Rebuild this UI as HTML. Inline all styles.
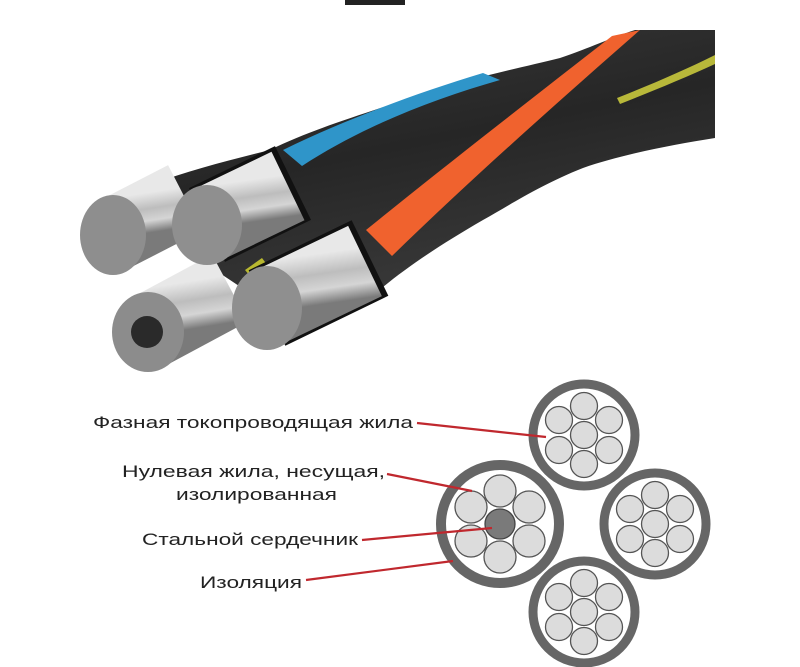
<!DOCTYPE html>
<html><head><meta charset="utf-8"><style>
html,body{margin:0;padding:0;background:#fff;}
svg{display:block;}
text{font-family:"Liberation Sans",Arial,sans-serif;font-size:16.5px;fill:#222;}
</style></head><body>
<svg width="800" height="667" viewBox="0 0 800 667" xmlns="http://www.w3.org/2000/svg">
<defs>
<linearGradient id="sil" x1="0" y1="0" x2="0.3" y2="1">
<stop offset="0" stop-color="#e8e8e8"/><stop offset="0.4" stop-color="#bdbdbd"/><stop offset="0.7" stop-color="#d5d5d5"/><stop offset="1" stop-color="#7a7a7a"/>
</linearGradient>
<linearGradient id="blk" x1="0" y1="0" x2="0.4" y2="1">
<stop offset="0" stop-color="#3a3a3a"/><stop offset="0.5" stop-color="#262626"/><stop offset="1" stop-color="#3b3b3b"/>
</linearGradient>
</defs>
<rect x="345" y="0" width="60" height="5" fill="#222"/>
<path d="M150,185 C190,170 230,160 270,150 C310,130 360,115 420,95 C470,78 520,68 560,58 C590,48 610,38 635,30 L715,30 L715,138 C670,145 620,155 583,168 C540,185 510,205 483,220 C440,245 410,265 383,287 L340,318 L260,300 L200,260 Z" fill="url(#blk)"/>
<path d="M283,150 C340,122 410,95 483,73 L500,80 C430,100 360,128 302,166 Z" fill="#2f95c9"/>
<path d="M366,230 C440,170 530,100 612,36 L640,30 C560,100 470,180 392,256 Z" fill="#f0622e"/>
<path d="M617,98 C650,85 685,70 715,55 L715,64 C685,78 650,92 620,104 Z" fill="#b8b83a"/>
<path d="M245,270 L262,258 L268,266 L250,276 Z" fill="#b8b830"/>
<path d="M150,180 L165,172 L170,182 L155,188 Z" fill="#2f8a3a"/>
<g stroke-linecap="butt">
<line x1="113" y1="235" x2="185" y2="198" stroke="url(#sil)" stroke-width="74"/>
<line x1="207" y1="225" x2="293" y2="183" stroke="#111" stroke-width="82"/>
<line x1="207" y1="225" x2="288" y2="186" stroke="url(#sil)" stroke-width="76"/>
<line x1="148" y1="332" x2="230" y2="288" stroke="url(#sil)" stroke-width="76"/>
<line x1="267" y1="308" x2="370" y2="258" stroke="#111" stroke-width="84"/>
<line x1="267" y1="308" x2="365" y2="261" stroke="url(#sil)" stroke-width="78"/>
</g>
<ellipse cx="113" cy="235" rx="33" ry="40" fill="#8e8e8e"/>
<ellipse cx="207" cy="225" rx="35" ry="40" fill="#8f8f8f"/>
<ellipse cx="148" cy="332" rx="36" ry="40" fill="#8c8c8c"/>
<circle cx="147" cy="332" r="16" fill="#2a2a2a"/>
<ellipse cx="267" cy="308" rx="35" ry="42" fill="#8f8f8f"/>
<g stroke="#555" stroke-width="1.3">
<circle cx="584" cy="435" r="51" fill="#fff" stroke="#666" stroke-width="9"/>
<g fill="#dcdcdc">
<circle cx="584" cy="435" r="13.5"/><circle cx="584" cy="406" r="13.5"/><circle cx="584" cy="464" r="13.5"/>
<circle cx="559" cy="420" r="13.5"/><circle cx="609" cy="420" r="13.5"/><circle cx="559" cy="450" r="13.5"/><circle cx="609" cy="450" r="13.5"/>
</g>
<circle cx="655" cy="524" r="51" fill="#fff" stroke="#666" stroke-width="9"/>
<g fill="#dcdcdc">
<circle cx="655" cy="524" r="13.5"/><circle cx="655" cy="495" r="13.5"/><circle cx="655" cy="553" r="13.5"/>
<circle cx="630" cy="509" r="13.5"/><circle cx="680" cy="509" r="13.5"/><circle cx="630" cy="539" r="13.5"/><circle cx="680" cy="539" r="13.5"/>
</g>
<circle cx="584" cy="612" r="51" fill="#fff" stroke="#666" stroke-width="9"/>
<g fill="#dcdcdc">
<circle cx="584" cy="612" r="13.5"/><circle cx="584" cy="583" r="13.5"/><circle cx="584" cy="641" r="13.5"/>
<circle cx="559" cy="597" r="13.5"/><circle cx="609" cy="597" r="13.5"/><circle cx="559" cy="627" r="13.5"/><circle cx="609" cy="627" r="13.5"/>
</g>
<circle cx="500" cy="524" r="59" fill="#fff" stroke="#666" stroke-width="10"/>
<g fill="#dcdcdc">
<circle cx="500" cy="491" r="16"/><circle cx="500" cy="557" r="16"/>
<circle cx="471" cy="507" r="16"/><circle cx="529" cy="507" r="16"/><circle cx="471" cy="541" r="16"/><circle cx="529" cy="541" r="16"/>
</g>
<circle cx="500" cy="524" r="15" fill="#7a7a7a" stroke="#444"/>
</g>
<g stroke="#c0282e" stroke-width="2.2" fill="none">
<line x1="417" y1="423" x2="546" y2="437"/>
<line x1="387" y1="474" x2="472" y2="491"/>
<line x1="362" y1="540" x2="492" y2="528"/>
<line x1="306" y1="580" x2="453" y2="561"/>
</g>
<text x="93" y="428" textLength="320" lengthAdjust="spacingAndGlyphs">Фазная токопроводящая жила</text>
<text x="122" y="477" textLength="263" lengthAdjust="spacingAndGlyphs">Нулевая жила, несущая,</text>
<text x="176" y="500" textLength="161" lengthAdjust="spacingAndGlyphs">изолированная</text>
<text x="142" y="545" textLength="216" lengthAdjust="spacingAndGlyphs">Стальной сердечник</text>
<text x="200" y="588" textLength="102" lengthAdjust="spacingAndGlyphs">Изоляция</text>
</svg>
</body></html>
